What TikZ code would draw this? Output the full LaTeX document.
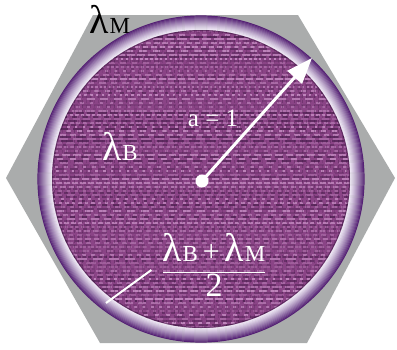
\documentclass[tikz,border=0pt]{standalone}
\usepackage{fontspec}
\setmainfont{Liberation Serif}
\usetikzlibrary{arrows.meta,positioning}
\definecolor{hexgrey}{RGB}{170,172,172}
\definecolor{clothpurple}{RGB}{138,68,134}
\definecolor{clothdark}{RGB}{56,20,62}
\definecolor{clothlight}{RGB}{210,156,208}
\definecolor{ringdark}{RGB}{84,32,116}
\definecolor{ringlight}{RGB}{242,236,248}
\newcommand{\lam}[1]{{\fontsize{40}{44}\selectfont λ}\kern0.5pt{\fontsize{23}{26}\selectfont #1}}

\begin{document}
\begin{tikzpicture}[
    x=1pt, y=-1pt,
    label/.style={inner sep=0pt, text=white},
    pointer/.style={white, line width=2pt},
    radiusarrow/.style={white, line width=3pt, -{Triangle[length=26pt,width=19pt]}}
]
    \useasboundingbox (0,0) rectangle (397,349);

    % hexagon behind the sphere
    \fill[hexgrey] (93,15) -- (298,15) -- (395,178) -- (307,343) -- (100,343) -- (6,178) -- cycle;

    % shell, dark outside to light inside
    \foreach \r in {0,...,14}{
        \pgfmathsetmacro\t{100*(1-\r/14)^1.2}
        \draw[ringdark!\t!ringlight, line width=1.2pt] (201,179) circle[radius=163pt-\r*1pt];
    }

    % woven core
    \begin{scope}
        \clip (201,179) circle[radius=149pt];
        \fill[clothpurple] (40,20) rectangle (365,340);
        \pgfmathsetseed{7}
        \foreach \k in {0,...,80}{
            \pgfmathsetmacro\o{0.15+0.45*rnd}
            \pgfmathsetmacro\a{2+10*rnd}
            \pgfmathsetmacro\b{2+6*rnd}
            \draw[clothdark, opacity=\o, line width=1.4pt, dash pattern=on \a pt off \b pt] (40+6*rnd,25+\k*4) -- (365,25+\k*4);
            \pgfmathsetmacro\o{0.25+0.5*rnd}
            \pgfmathsetmacro\a{2+8*rnd}
            \pgfmathsetmacro\b{2+5*rnd}
            \draw[clothlight, opacity=\o, line width=1.4pt, dash pattern=on \a pt off \b pt] (40+6*rnd,27+\k*4) -- (365,27+\k*4);
        }
        \foreach \k in {0,...,81}{
            \pgfmathsetmacro\o{0.08+0.25*rnd}
            \draw[clothdark, opacity=\o, line width=1pt, dash pattern=on 3pt off 2pt] (42+\k*4,20) -- (42+\k*4,340);
        }
        \draw[clothdark, opacity=0.5, line width=2pt] (201,179) circle[radius=149pt];
    \end{scope}

    % labels
    \node[inner sep=0pt] (lm) at (110,19) {\lam{M}};
    \node[label] (lb) at (120,146) {\lam{B}};
    \node[label, font=\fontsize{25}{28}\selectfont] (a) at (213,118) {a = 1};
    \node[label, font=\fontsize{30}{34}\selectfont] (frac) at (214,265)
        {$\displaystyle\frac{\hbox{\lam{B}\,+\,\lam{M}}}{\hbox{\fontsize{34}{36}\selectfont 2}}$};

    % centre and radius
    \node[circle, fill=white, minimum size=13pt, inner sep=0pt] (ctr) at (202,181) {};
    \coordinate (tip) at (312,58);
    \draw[radiusarrow] (ctr.center) -- (tip);

    % pointer to the shell
    \coordinate (ptr) at (106,303);
    \draw[pointer] (ptr) -- ([xshift=-10pt,yshift=-5pt]frac.west);
\end{tikzpicture}
\end{document}
